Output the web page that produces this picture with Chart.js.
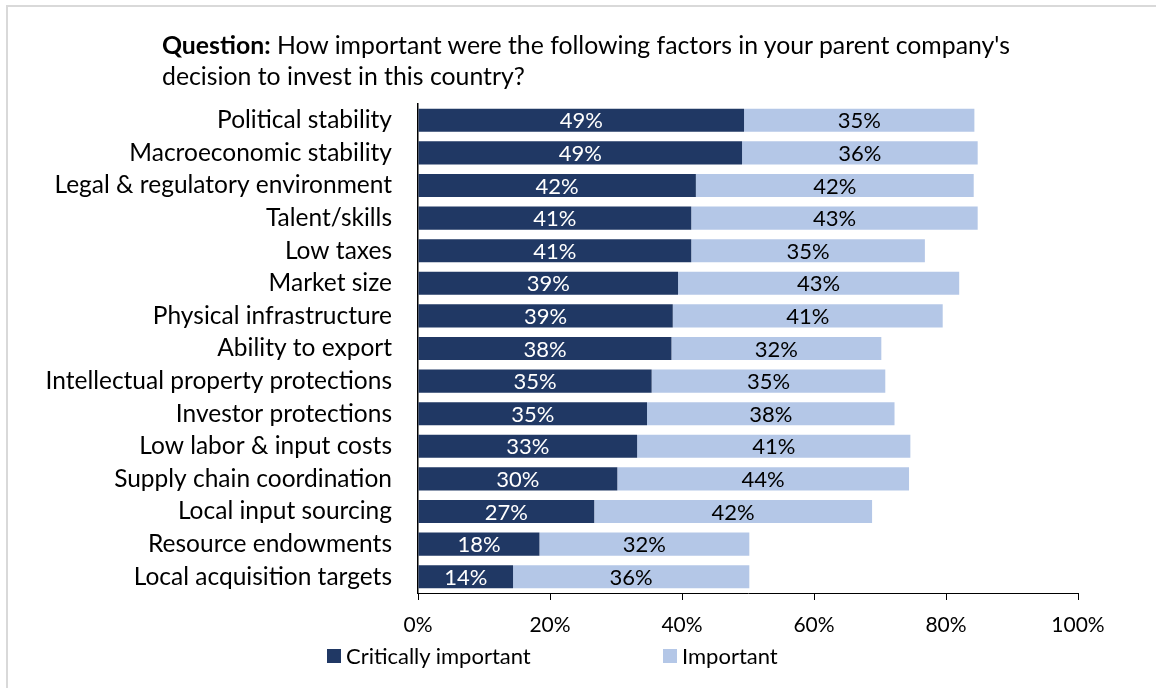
<!DOCTYPE html>
<html>
<head>
<meta charset="utf-8">
<script src="https://cdn.jsdelivr.net/npm/chart.js@4.4.1/dist/chart.umd.min.js"></script>
<style>
  html, body { margin:0; padding:0; background:#fff; }
  #wrap { position:relative; width:1156px; height:688px; overflow:hidden; font-family: Lato, "Open Sans", sans-serif; }
  #frame { position:absolute; left:6px; top:5px; width:1200px; height:800px; border-left:2px solid #d9d9d9; border-top:2px solid #d9d9d9; }
  #title { position:absolute; left:162px; top:29px; font-size:24.8px; line-height:31px; color:#000; }
  #legend { position:absolute; top:645px; left:0; font-size:22px; color:#000; }
  .item { position:absolute; white-space:nowrap; line-height:22px; }
  .box { position:absolute; width:14px; height:14px; top:4px; }
  canvas { position:absolute; left:0; top:0; }
</style>
</head>
<body>
<div id="wrap">
  <div id="frame"></div>
  <canvas id="c" width="1156" height="688"></canvas>
  <div id="title"><b>Question:</b> How important were the following factors in your parent company's<br>decision to invest in this country?</div>
  <div id="legend">
    <div class="item" style="left:327px;"><span class="box" style="left:0;background:#203864;"></span><span style="padding-left:19px;">Critically important</span></div>
    <div class="item" style="left:663px;"><span class="box" style="left:0;background:#b4c7e7;"></span><span style="padding-left:19px;">Important</span></div>
  </div>
</div>
<script>
const categories = [
  "Political stability",
  "Macroeconomic stability",
  "Legal & regulatory environment",
  "Talent/skills",
  "Low taxes",
  "Market size",
  "Physical infrastructure",
  "Ability to export",
  "Intellectual property protections",
  "Investor protections",
  "Low labor & input costs",
  "Supply chain coordination",
  "Local input sourcing",
  "Resource endowments",
  "Local acquisition targets"
];
const criticallyImportant = [49.4, 49.1, 42.1, 41.4, 41.4, 39.4, 38.6, 38.4, 35.4, 34.7, 33.2, 30.2, 26.7, 18.4, 14.4];
const important = [34.9, 35.7, 42.1, 43.4, 35.4, 42.6, 40.9, 31.8, 35.4, 37.5, 41.4, 44.2, 42.1, 31.8, 35.8];
const xTicks = [0, 20, 40, 60, 80, 100];

const FONT = "Lato";

const barLabels = {
  id: 'barLabels',
  afterDatasetsDraw(chart) {
    const ctx = chart.ctx;
    ctx.save();
    ctx.font = "22px " + FONT;
    ctx.textAlign = 'center';
    ctx.textBaseline = 'middle';
    chart.data.datasets.forEach((ds, di) => {
      const meta = chart.getDatasetMeta(di);
      meta.data.forEach((el, i) => {
        const p = el.getProps(['x', 'y', 'base'], true);
        ctx.fillStyle = di === 0 ? '#ffffff' : '#000000';
        ctx.fillText(Math.round(ds.data[i]) + '%', (p.x + p.base) / 2, p.y + 1);
      });
    });
    ctx.restore();
  }
};

new Chart(document.getElementById('c'), {
  type: 'bar',
  data: {
    labels: categories,
    datasets: [
      { label: 'Critically important', data: criticallyImportant, backgroundColor: '#203864', borderWidth: 0, barPercentage: 0.71, categoryPercentage: 1 },
      { label: 'Important', data: important, backgroundColor: '#b4c7e7', borderWidth: 0, barPercentage: 0.71, categoryPercentage: 1 }
    ]
  },
  options: {
    indexAxis: 'y',
    responsive: false,
    animation: false,
    devicePixelRatio: 1,
    layout: { padding: { left: 0, top: 104, right: 78, bottom: 45 } },
    plugins: { legend: { display: false }, tooltip: { enabled: false }, title: { display: false } },
    scales: {
      x: {
        stacked: true,
        min: 0, max: 100,
        afterBuildTicks(scale) { scale.ticks = xTicks.map(v => ({ value: v })); },
        afterFit(scale) { scale.height = 50; },
        ticks: { callback: v => v + '%', color: '#000', font: { family: FONT, size: 21 }, padding: 13, maxRotation: 0 },
        grid: { display: true, drawOnChartArea: false, drawTicks: true, tickLength: 7, color: '#000', lineWidth: 1 },
        border: { display: true, color: '#000', width: 1 }
      },
      y: {
        stacked: true,
        afterFit(scale) { scale.width = 418; },
        ticks: { color: '#000', font: { family: FONT, size: 24.5 }, padding: 26, autoSkip: false },
        grid: { display: false, drawTicks: false },
        border: { display: true, color: '#000', width: 1.5 }
      }
    }
  },
  plugins: [barLabels]
});
</script>
</body>
</html>
